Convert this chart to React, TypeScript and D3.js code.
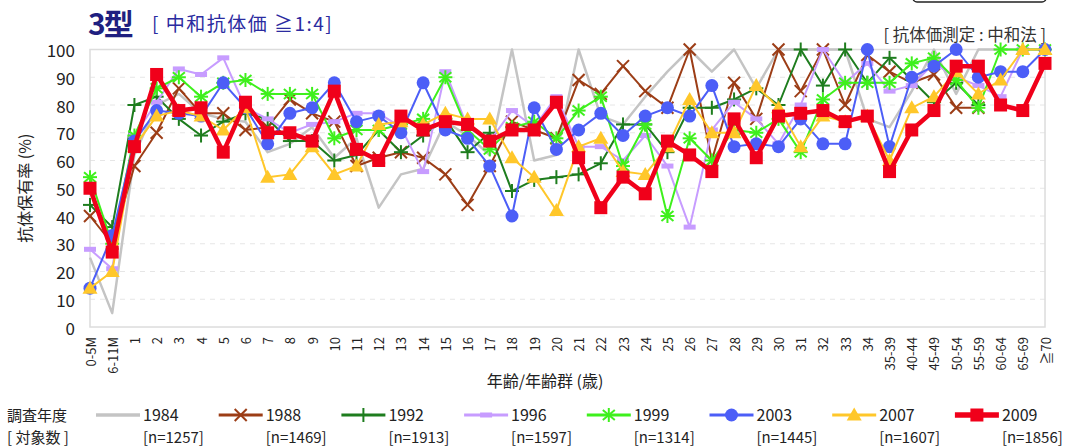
import * as d3 from "d3";

const ageGroups = [
  "0-5M", "6-11M", "1", "2", "3", "4", "5", "6", "7", "8", "9", "10",
  "11", "12", "13", "14", "15", "16", "17", "18", "19", "20", "21", "22",
  "23", "24", "25", "26", "27", "28", "29", "30", "31", "32", "33", "34",
  "35-39", "40-44", "45-49", "50-54", "55-59", "60-64", "65-69", "≧70",
];

const yTicks = [0, 10, 20, 30, 40, 50, 60, 70, 80, 90, 100];

const s1984 = [25, 5, 62, 80, 84, 77, 75, 74, 63, 66, 72, 61, 68, 43, 55, 57, 74, 69, 62, 100, 60, 62, 100, 76, 73, 83, 92, 100, 92, 100, 86, 100, 100, 100, 100, 75, 72, 85, 100, 84, 100, 100, 100, 100];
const s1988 = [40, 30, 58, 70, 86, 77, 77, 71, 72, 82, 77, 74, 58, 61, 63, 61, 55, 44, 58, 74, 71, 68, 89, 84, 94, 85, 79, 100, 60, 88, 75, 100, 85, 100, 80, 98, 92, 88, 91, 79, 79, null, null, null];
const s1992 = [44, 36, 80, 83, 75, 69, 74, 77, 75, 67, 67, 60, 62, 71, 63, 69, 75, 63, 70, 49, 53, 54, 55, 59, 73, 73, 63, 79, 79, 82, 86, 80, 100, 87, 100, 88, 97, 89, 81, 88, 80, null, null, null];
const s1996 = [28, 21, 69, 81, 93, 91, 97, 79, 75, 70, 73, 74, 77, 77, 72, 56, 92, 72, 67, 78, 72, 83, 65, 65, 60, 69, 58, 36, 71, 81, 75, 66, 80, 100, 88, 95, 85, 87, 95, 90, 87, 83, 100, 100];
const s1999 = [54, 30, 69, 86, 90, 83, 88, 89, 84, 84, 84, 68, 71, 71, 73, 75, 90, 71, 64, 72, 74, 68, 78, 83, 58, 73, 40, 68, 60, 71, 70, 75, 63, 82, 88, 88, 88, 95, 97, 89, 79, 100, 100, 100];
const s2003 = [14, 33, 67, 78, 77, 76, 88, 79, 66, 77, 79, 88, 74, 76, 70, 88, 71, 68, 58, 40, 79, 64, 71, 77, 69, 76, 79, 76, 87, 65, 66, 65, 75, 66, 66, 100, 65, 90, 94, 100, 90, 92, 92, 100];
const s2007 = [14, 20, 65, 76, 78, 76, 71, 79, 54, 55, 65, 55, 58, 73, 74, 73, 77, 75, 75, 61, 54, 42, 65, 68, 56, 55, 65, 82, 70, 70, 87, 79, 65, 76, 74, 76, 60, 79, 83, 92, 84, 89, 100, 100];
const s2009 = [50, 27, 65, 91, 78, 79, 63, 81, 70, 70, 67, 85, 64, 60, 76, 71, 74, 73, 67, 71, 71, 81, 61, 43, 54, 48, 67, 62, 56, 75, 61, 76, 77, 78, 74, 76, 56, 71, 78, 94, 94, 80, 78, 95];

const years = ["1984", "1988", "1992", "1996", "1999", "2003", "2007", "2009"];
const counts = ["[n=1257]", "[n=1469]", "[n=1913]", "[n=1597]", "[n=1314]", "[n=1445]", "[n=1607]", "[n=1856]"];

type Shape = "none" | "x" | "plus" | "bar" | "star" | "circle" | "triangle" | "square";

const series: { values: (number | null)[]; color: string; width: number; shape: Shape }[] = [
  { values: s1984, color: "#c4c4c4", width: 2.5, shape: "none" },
  { values: s1988, color: "#9c3d16", width: 2, shape: "x" },
  { values: s1992, color: "#1e7d1e", width: 2, shape: "plus" },
  { values: s1996, color: "#c79cff", width: 2, shape: "bar" },
  { values: s1999, color: "#3ef01c", width: 2, shape: "star" },
  { values: s2003, color: "#4c5ef7", width: 2, shape: "circle" },
  { values: s2007, color: "#ffc72a", width: 2, shape: "triangle" },
  { values: s2009, color: "#f0001a", width: 4.5, shape: "square" },
];

const FONT = "'Noto Sans CJK JP', 'Noto Sans', sans-serif";

function Marker({ shape, x, y, color }: { shape: Shape; x: number; y: number; color: string }) {
  switch (shape) {
    case "x":
      return (
        <g stroke={color} strokeWidth={2}>
          <line x1={x - 6} y1={y - 6} x2={x + 6} y2={y + 6} />
          <line x1={x - 6} y1={y + 6} x2={x + 6} y2={y - 6} />
        </g>
      );
    case "plus":
      return (
        <g stroke={color} strokeWidth={2}>
          <line x1={x - 7} y1={y} x2={x + 7} y2={y} />
          <line x1={x} y1={y - 7} x2={x} y2={y + 7} />
        </g>
      );
    case "bar":
      return <rect x={x - 6} y={y - 2.5} width={12} height={5} fill={color} />;
    case "star":
      return (
        <g stroke={color} strokeWidth={2}>
          <line x1={x} y1={y - 7} x2={x} y2={y + 7} />
          <line x1={x - 6} y1={y - 5} x2={x + 6} y2={y + 5} />
          <line x1={x - 6} y1={y + 5} x2={x + 6} y2={y - 5} />
          <line x1={x - 7} y1={y} x2={x + 7} y2={y} />
        </g>
      );
    case "circle":
      return <circle cx={x} cy={y} r={6.5} fill={color} />;
    case "triangle":
      return <path d={`M${x},${y - 7.5}L${x + 7.5},${y + 5.5}L${x - 7.5},${y + 5.5}Z`} fill={color} />;
    case "square":
      return <rect x={x - 6.5} y={y - 6.5} width={13} height={13} fill={color} />;
    default:
      return null;
  }
}

export default function App() {
  const width = 1072;
  const height = 448;
  const left = 90;
  const right = 1045;
  const top = 49.5;
  const bottom = 327;

  const x = d3.scalePoint<string>().domain(ageGroups).range([left, right]).padding(0);
  const y = d3.scaleLinear().domain([0, 100]).range([bottom, top]);

  const line = d3
    .line<number | null>()
    .defined((d) => d !== null)
    .x((_, i) => x(ageGroups[i]) as number)
    .y((d) => y(d as number));

  const legendX = (i: number) => 96 + i * 122.7;

  return (
    <svg
      width={width}
      height={height}
      style={{ position: "absolute", left: 0, top: 0, background: "#fff" }}
      fontFamily={FONT}
    >
      {/* box cut off at the top right */}
      <rect x={913} y={-20} width={133} height={22} rx={4} fill="none" stroke="#222" strokeWidth={1.5} />

      <text x={88} y={35} fontSize={30} fontWeight="bold" fill="#1f1f80" letterSpacing={-2}>
        3型
      </text>
      <text x={152} y={31} fontSize={19} fill="#2b2ba0" letterSpacing={1.5}>
        [ 中和抗体価 ≧1:4]
      </text>
      <text x={1046} y={41} fontSize={16.5} fill="#333" textAnchor="end">
        [ 抗体価測定 : 中和法 ]
      </text>

      {/* grid */}
      {yTicks.slice(1, -1).map((t) => (
        <line key={t} x1={left} x2={right} y1={y(t)} y2={y(t)} stroke="#e6e6e6" strokeDasharray="5,5" />
      ))}
      <rect x={left} y={top} width={right - left} height={bottom - top} fill="none" stroke="#dcdcdc" strokeWidth={1.5} />

      {yTicks.map((t) => (
        <text key={t} x={75} y={y(t)} fontSize={17} fill="#222" textAnchor="end" dominantBaseline="central">
          {t}
        </text>
      ))}
      <text
        transform={`translate(24,${(top + bottom) / 2}) rotate(-90)`}
        fontSize={16}
        fill="#222"
        textAnchor="middle"
        dominantBaseline="central"
      >
        抗体保有率 (%)
      </text>

      {ageGroups.map((g) => (
        <text
          key={g}
          transform={`translate(${x(g)},337) rotate(-90)`}
          fontSize={13}
          fill="#222"
          textAnchor="end"
          dominantBaseline="central"
        >
          {g}
        </text>
      ))}
      <text x={545} y={387} fontSize={16} fill="#222" textAnchor="middle">
        年齢/年齢群 (歳)
      </text>

      {series.map((s, si) => (
        <g key={si}>
          <path d={line(s.values) ?? ""} fill="none" stroke={s.color} strokeWidth={s.width} strokeLinejoin="round" />
          {s.values.map((v, i) =>
            v === null ? null : <Marker key={i} shape={s.shape} x={x(ageGroups[i]) as number} y={y(v)} color={s.color} />
          )}
        </g>
      ))}

      {/* legend */}
      <text x={7} y={421} fontSize={15} fill="#222">調査年度</text>
      <text x={7} y={443} fontSize={15} fill="#222">[ 対象数 ]</text>
      {series.map((s, i) => {
        const lx = legendX(i);
        return (
          <g key={i}>
            <line x1={lx} x2={lx + 44} y1={415} y2={415} stroke={s.color} strokeWidth={s.width + 1} />
            <Marker shape={s.shape} x={lx + 22} y={415} color={s.color} />
            <text x={lx + 47} y={421} fontSize={16} fill="#222">{years[i]}</text>
            <text x={lx + 47} y={443} fontSize={15} fill="#222">{counts[i]}</text>
          </g>
        );
      })}
    </svg>
  );
}
